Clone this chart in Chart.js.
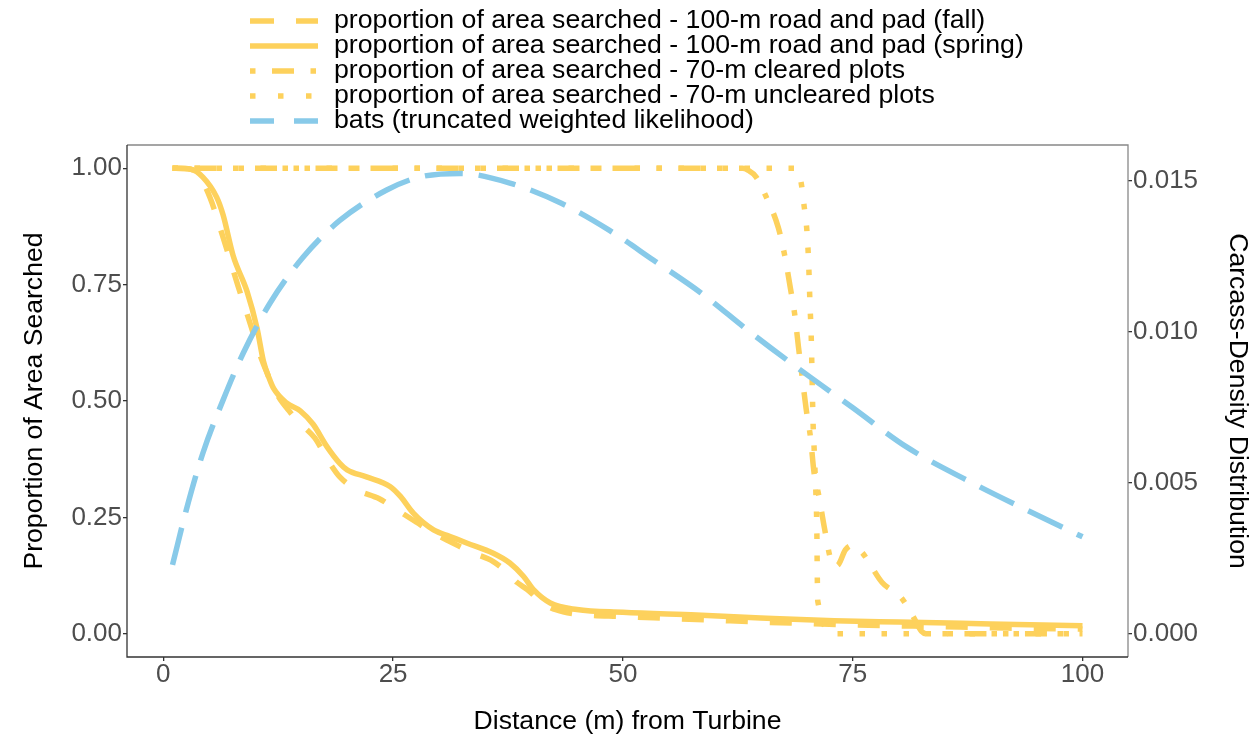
<!DOCTYPE html>
<html><head><meta charset="utf-8">
<script src="https://cdn.jsdelivr.net/npm/chart.js@4"></script>
<style>html,body{margin:0;padding:0;background:#fff;}#wrap{width:1256px;height:740px;}</style>
</head><body><div id="wrap"><canvas id="c" width="1256" height="740"></canvas></div>
<script>
// ---- data ----
const seriesLabels = [
  'proportion of area searched - 100-m road and pad (fall)',
  'proportion of area searched - 100-m road and pad (spring)',
  'proportion of area searched - 70-m cleared plots',
  'proportion of area searched - 70-m uncleared plots',
  'bats (truncated weighted likelihood)'
];
const fallX = [1,3,4,5.1,6.7,8.1,9.6,10.5,11.4,12.5,13.8,15,16.5,18,19.2,21,23.5,25.5,27.5,29.5,31.5,33.5,35.9,37.5,38.5,39.6,41,42.2,43.5,45,50,55,60,65,70,75,80,85,90,95,100];
const fallY = [1,0.998,0.98,0.936,0.839,0.749,0.657,0.6,0.555,0.51,0.476,0.45,0.42,0.37,0.337,0.31,0.29,0.265,0.24,0.215,0.195,0.175,0.155,0.13,0.11,0.095,0.07,0.055,0.047,0.042,0.037,0.033,0.029,0.025,0.022,0.019,0.017,0.015,0.013,0.011,0.010];
const springX = [1,3,4.3,5.8,6.5,7.6,9.1,10.2,10.9,11.5,12.0,13.4,14.9,16.3,17.8,19.2,20.0,22.1,24.7,25.8,27.2,29.4,31.2,33.0,35.9,37.7,39.2,40.3,42.1,45,50,58,65,73,80,90,100];
const springY = [1,0.998,0.981,0.938,0.9,0.812,0.736,0.656,0.585,0.55,0.527,0.496,0.479,0.45,0.402,0.366,0.352,0.337,0.316,0.295,0.259,0.223,0.209,0.195,0.173,0.152,0.123,0.094,0.066,0.052,0.046,0.04,0.034,0.028,0.025,0.021,0.017];
const clearedX = [1,63,63.6,64.5,65.6,66.9,67.6,68.2,68.7,69.1,69.5,70.0,70.4,70.8,71.3,71.9,72.6,73.0,73.5,74.2,75.0,76.0,78.2,80.3,81.6,82.5,83,100];
const clearedY = [1,1,0.996,0.981,0.938,0.873,0.813,0.745,0.685,0.616,0.552,0.474,0.423,0.345,0.298,0.23,0.16,0.145,0.15,0.18,0.19,0.175,0.11,0.077,0.036,0.005,0,0];
const unclearedX = [1,68.6,69.0,69.4,69.7,70.0,70.2,70.35,70.5,70.6,70.7,70.8,70.9,71.0,71.1,71.15,71.2,73.1,100];
const unclearedY = [1,1,0.995,0.968,0.921,0.87,0.80,0.71,0.63,0.53,0.445,0.40,0.35,0.30,0.22,0.12,0.07,0,0];
const batsX = [1,2.5,4.3,6.5,8.7,11.6,15.2,19.2,24.3,27.9,32.3,37.7,43.3,48.5,53.3,58.5,63.6,69.3,74.9,80.9,87.4,93.9,100];
const batsDensity = [0.00228,0.00410,0.00598,0.00774,0.00930,0.01095,0.01247,0.01369,0.01470,0.01513,0.01525,0.01493,0.01426,0.01337,0.01238,0.01129,0.01005,0.00874,0.00751,0.00618,0.00509,0.00410,0.00321];
const xTicks = [0,25,50,75,100];
const leftTicks = [0,0.25,0.5,0.75,1];
const rightTicks = [0,0.005,0.010,0.015];
const secScale = 0.01542; // density per unit of proportion (secondary axis)

// ---- styling ----
const YEL = '#FDD15C', BLU = '#88CAE9';
const FONT = "'Liberation Sans', Arial, sans-serif";
const LW = 5.5;
const zip = (xs, ys) => xs.map((x, i) => ({x, y: ys[i]}));

const dsBase = {pointRadius: 0, borderWidth: LW, borderCapStyle: 'butt', borderJoinStyle: 'round', cubicInterpolationMode: 'monotone', fill: false};
const datasets = [
  Object.assign({}, dsBase, {label: seriesLabels[0], data: zip(fallX, fallY), borderColor: YEL, borderDash: [22,22], yAxisID: 'y', order: 5, legendDash: [24,22]}),
  Object.assign({}, dsBase, {label: seriesLabels[1], data: zip(springX, springY), borderColor: YEL, borderDash: [], yAxisID: 'y', order: 4, legendDash: []}),
  Object.assign({}, dsBase, {label: seriesLabels[2], data: zip(clearedX, clearedY), borderColor: YEL, borderDash: [5.5,16.5,22,16.5], yAxisID: 'y', order: 3, legendDash: [5.5,16.5,22,16.5]}),
  Object.assign({}, dsBase, {label: seriesLabels[3], data: zip(unclearedX, unclearedY), borderColor: YEL, borderDash: [5.5,16.5], yAxisID: 'y', order: 2, legendDash: [5.5,22.5]}),
  Object.assign({}, dsBase, {label: seriesLabels[4], data: zip(batsX, batsDensity), borderColor: BLU, borderDash: [38,16], yAxisID: 'y2', order: 1, legendDash: [24,20]})
];

const legendPlugin = {
  id: 'customLegend',
  afterDraw(chart) {
    const ctx = chart.ctx;
    ctx.save();
    const rows = [21, 46, 71, 96, 121];
    chart.data.datasets.forEach((ds, i) => {
      const y = rows[i];
      ctx.strokeStyle = ds.borderColor;
      ctx.lineWidth = LW;
      ctx.lineCap = 'butt';
      ctx.setLineDash(ds.legendDash);
      ctx.beginPath(); ctx.moveTo(250, y); ctx.lineTo(318, y); ctx.stroke();
      ctx.setLineDash([]);
      ctx.fillStyle = '#000';
      ctx.font = '26.7px ' + FONT;
      ctx.textBaseline = 'middle';
      ctx.textAlign = 'left';
      ctx.fillText(ds.label, 334, y);
    });
    ctx.restore();
  }
};
const framePlugin = {
  id: 'frame',
  afterDatasetsDraw(chart) {
    const {left, right, top, bottom} = chart.chartArea;
    const ctx = chart.ctx;
    ctx.save();
    ctx.lineWidth = 1.3;
    ctx.strokeStyle = '#888';
    ctx.beginPath(); ctx.moveTo(left, top); ctx.lineTo(right, top); ctx.lineTo(right, bottom); ctx.stroke();
    ctx.strokeStyle = '#333';
    ctx.beginPath(); ctx.moveTo(left, top); ctx.lineTo(left, bottom); ctx.lineTo(right, bottom); ctx.stroke();
    ctx.restore();
  }
};

const tickFont = {family: FONT, size: 26};
const titleFont = {family: FONT, size: 26.6};
new Chart(document.getElementById('c'), {
  type: 'line',
  data: {datasets},
  plugins: [legendPlugin, framePlugin],
  options: {
    responsive: false, animation: false, devicePixelRatio: 1,
    layout: {padding: {top: 145, left: 0, right: 0, bottom: 0}},
    plugins: {legend: {display: false}, tooltip: {enabled: false}},
    scales: {
      x: {
        type: 'linear', min: -3.95, max: 104.95,
        afterBuildTicks: s => { s.ticks = xTicks.map(v => ({value: v})); },
        afterFit: s => { s.height = 83; },
        ticks: {font: tickFont, color: '#4D4D4D', padding: -2, maxRotation: 0, callback: v => String(v)},
        grid: {display: true, drawOnChartArea: false, drawTicks: true, tickLength: 4, color: '#333', lineWidth: 1.3},
        border: {display: false},
        title: {display: true, text: 'Distance (m) from Turbine', font: titleFont, color: '#000', padding: {top: 0, bottom: 2}}
      },
      y: {
        type: 'linear', position: 'left', min: -0.05, max: 1.05,
        afterBuildTicks: s => { s.ticks = leftTicks.map(v => ({value: v})); },
        afterFit: s => { s.width = 127; },
        ticks: {font: tickFont, color: '#4D4D4D', padding: 1, callback: v => Number(v).toFixed(2)},
        grid: {display: true, drawOnChartArea: false, drawTicks: true, tickLength: 4, color: '#333', lineWidth: 1.3},
        border: {display: false},
        title: {display: true, text: 'Proportion of Area Searched', font: titleFont, color: '#000', padding: {top: 19, bottom: 0}}
      },
      y2: {
        type: 'linear', position: 'right', min: -0.05 * secScale, max: 1.05 * secScale,
        afterBuildTicks: s => { s.ticks = rightTicks.map(v => ({value: v})); },
        afterFit: s => { s.width = 128; },
        ticks: {font: tickFont, color: '#4D4D4D', padding: 1, callback: v => Number(v).toFixed(3)},
        grid: {display: true, drawOnChartArea: false, drawTicks: true, tickLength: 4, color: '#333', lineWidth: 1.3},
        border: {display: false},
        title: {display: true, text: 'Carcass-Density Distribution', font: titleFont, color: '#000', padding: {top: 3, bottom: 0}}
      }
    }
  }
});
</script></body></html>
